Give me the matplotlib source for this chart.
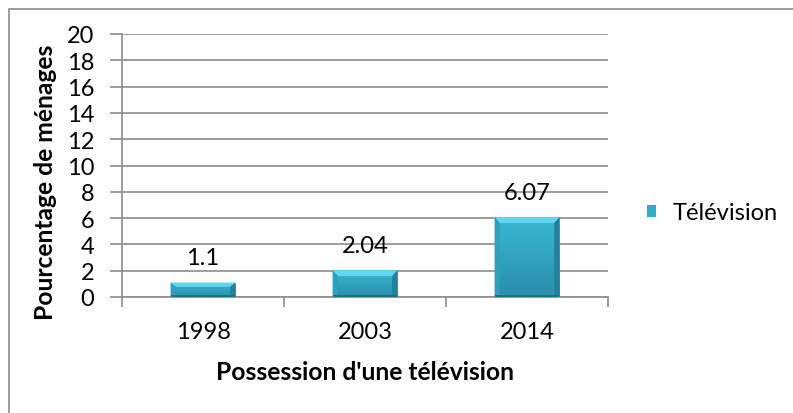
import numpy as np
import matplotlib.pyplot as plt
from matplotlib.colors import LinearSegmentedColormap
from matplotlib.patches import Rectangle, Polygon
from matplotlib.ticker import FixedLocator

# household TV ownership by survey year
years = ["1998", "2003", "2014"]
pct_tv = [1.1, 2.04, 6.07]
series_name = "Télévision"

plt.rcParams["font.family"] = ["Lato", "DejaVu Sans"]
FS = 17
FS_TITLE = 17.7

fig = plt.figure(figsize=(7.93, 4.14), dpi=100)
ax = fig.add_axes([122 / 793, 1 - 298 / 414, 486 / 793, 263 / 414])

# outer chart frame (only left and top edges are visible)
fig.add_artist(Rectangle((9 / 793, -0.05), 1.2, 1 - 10 / 414 + 0.05,
                         transform=fig.transFigure, fill=False,
                         edgecolor="#8c8c8c", linewidth=1.2))

x = np.arange(len(years))
width = 0.4
bars = ax.bar(x, pct_tv, width=width, color="#31abc8", zorder=3,
              label=series_name)

# bevel look: gradient body, lighter top facet, darker side facets
cmap = LinearSegmentedColormap.from_list("tv", ["#2a8fab", "#38b6d3"])
grad = np.linspace(0, 1, 64).reshape(-1, 1)
for b in bars:
    x0, y0 = b.get_x(), b.get_y()
    w, h = b.get_width(), b.get_height()
    im = ax.imshow(grad, extent=(x0, x0 + w, y0, y0 + h), aspect="auto",
                   cmap=cmap, origin="lower", zorder=3.1)
    im.set_clip_path(b)
    bev_y = min(0.45, h * 0.3)
    bev_x = w * 0.08
    ax.add_patch(Polygon([(x0, y0 + h), (x0 + w, y0 + h),
                          (x0 + w - bev_x, y0 + h - bev_y),
                          (x0 + bev_x, y0 + h - bev_y)],
                         closed=True, facecolor="#62d6ee", edgecolor="none",
                         zorder=3.2))
    ax.add_patch(Polygon([(x0, y0), (x0, y0 + h), (x0 + bev_x, y0 + h - bev_y),
                          (x0 + bev_x, y0 + bev_y * 0.4)],
                         closed=True, facecolor="#2e9fbc", edgecolor="none",
                         zorder=3.2))
    ax.add_patch(Polygon([(x0 + w, y0), (x0 + w, y0 + h),
                          (x0 + w - bev_x, y0 + h - bev_y),
                          (x0 + w - bev_x, y0 + bev_y * 0.4)],
                         closed=True, facecolor="#25819b", edgecolor="none",
                         zorder=3.2))
    ax.add_patch(Rectangle((x0, y0), w, 0.12, facecolor="#1f6f86",
                           edgecolor="none", zorder=3.3))

for xi, v in zip(x, pct_tv):
    ax.annotate(f"{v:g}", (xi, v), xytext=(0, 13), textcoords="offset points",
                ha="center", va="baseline", fontsize=FS, color="#000000",
                zorder=5)

ax.set_xlim(-0.5, 2.5)
ax.set_ylim(0, 20)
ax.set_yticks(np.arange(0, 21, 2))
ax.set_xticks(x)
ax.set_xticklabels(years)
ax.xaxis.set_minor_locator(FixedLocator([-0.5, 0.5, 1.5, 2.5]))
ax.tick_params(axis="x", which="major", length=0, pad=17, labelsize=FS)
ax.tick_params(axis="x", which="minor", length=7, color="#8c8c8c", width=1.2)
ax.tick_params(axis="y", length=9, color="#8c8c8c", width=1.2, pad=11,
               labelsize=FS)

ax.grid(axis="y", color="#8c8c8c", linewidth=1.2, zorder=0)
for s in ["top", "right"]:
    ax.spines[s].set_visible(False)
for s in ["left", "bottom"]:
    ax.spines[s].set_color("#8c8c8c")
    ax.spines[s].set_linewidth(1.2)

ax.set_xlabel("Possession d'une télévision", fontsize=FS_TITLE,
              fontweight="bold")
ax.xaxis.set_label_coords(0.5, -(373 - 298) / 263)
ax.xaxis.label.set_va("center")
ax.set_ylabel("Pourcentage de ménages", fontsize=FS_TITLE, fontweight="bold")
ax.yaxis.set_label_coords((46 - 122) / 486, (298 - 182) / 263)
ax.yaxis.label.set_va("center")

fig.legend(handles=[bars], labels=[series_name], loc="center left",
           bbox_to_anchor=(647 / 793, 1 - 214 / 414), frameon=False,
           fontsize=FS, borderpad=0, borderaxespad=0,
           handlelength=0.4, handleheight=0.4, handletextpad=0.7)

fig.savefig("out.png", dpi=100)
